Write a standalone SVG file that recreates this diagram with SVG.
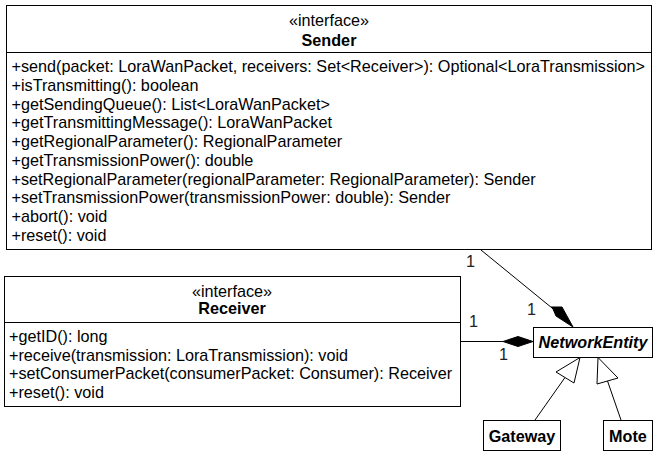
<svg xmlns="http://www.w3.org/2000/svg" width="657" height="453" viewBox="0 0 657 453">
<style>
.box{fill:#fff;stroke:#000;stroke-width:1}
text{font-family:"Liberation Sans",Arial,sans-serif;font-size:16.2px;fill:#000}
.c{text-anchor:middle}
.b{font-weight:bold}
.i{font-style:italic}
.ln{stroke:#000;stroke-width:1;fill:none}
.lbl{fill:#222}
</style>
<rect width="657" height="453" fill="#fff"/>
<g id="sender">
<rect class="box" x="6.5" y="5.5" width="645" height="244"/>
<line class="ln" x1="6.5" y1="52.5" x2="651.5" y2="52.5"/>
<text class="c" x="329" y="26">«interface»</text>
<text class="c b" x="329" y="46">Sender</text>
<text x="11.5" y="72.3">+send(packet: LoraWanPacket, receivers: Set&lt;Receiver&gt;): Optional&lt;LoraTransmission&gt;</text>
<text x="11.5" y="91">+isTransmitting(): boolean</text>
<text x="11.5" y="109.7">+getSendingQueue(): List&lt;LoraWanPacket&gt;</text>
<text x="11.5" y="128.4">+getTransmittingMessage(): LoraWanPacket</text>
<text x="11.5" y="147.1">+getRegionalParameter(): RegionalParameter</text>
<text x="11.5" y="165.8">+getTransmissionPower(): double</text>
<text x="11.5" y="184.5">+setRegionalParameter(regionalParameter: RegionalParameter): Sender</text>
<text x="11.5" y="203.2">+setTransmissionPower(transmissionPower: double): Sender</text>
<text x="11.5" y="221.9">+abort(): void</text>
<text x="11.5" y="240.6">+reset(): void</text>
</g>
<g id="receiver">
<rect class="box" x="4.5" y="276.5" width="456" height="130"/>
<line class="ln" x1="4.5" y1="322.5" x2="460.5" y2="322.5"/>
<text class="c" x="232" y="296.5">«interface»</text>
<text class="c b" x="232" y="314">Receiver</text>
<text x="9" y="342">+getID(): long</text>
<text x="9" y="360.7">+receive(transmission: LoraTransmission): void</text>
<text x="9" y="379.4">+setConsumerPacket(consumerPacket: Consumer): Receiver</text>
<text x="9" y="398">+reset(): void</text>
</g>
<g id="networkentity">
<rect class="box" x="533.5" y="327.5" width="119" height="30"/>
<text class="c b i" x="593" y="348">NetworkEntity</text>
</g>
<g id="gateway">
<rect class="box" x="483.5" y="420.5" width="77" height="30"/>
<text class="c b" x="522" y="441.5">Gateway</text>
</g>
<g id="mote">
<rect class="box" x="603.5" y="420.5" width="49" height="30"/>
<text class="c b" x="628" y="441.5">Mote</text>
</g>
<g id="connectors">
<line class="ln" x1="481" y1="250" x2="552" y2="308"/>
<polygon points="573,327 562,307 551,307 553,309 556,316" fill="#000" stroke="#000"/>
<line class="ln" x1="460.5" y1="341.5" x2="503" y2="341.5"/>
<polygon points="533,341.5 518,336.5 503,341.5 518,346.5" fill="#000" stroke="#000"/>
<line class="ln" x1="535" y1="420" x2="565" y2="377.5"/>
<polygon points="580,357.5 574,383 556,372" fill="#fff" stroke="#000"/>
<line class="ln" x1="621" y1="420" x2="607.5" y2="381"/>
<polygon points="598,357.5 597,384 618,378" fill="#fff" stroke="#000"/>
<text class="lbl" x="466" y="267">1</text>
<text class="lbl" x="527" y="315">1</text>
<text class="lbl" x="469" y="327">1</text>
<text class="lbl" x="499" y="360">1</text>
</g>
</svg>
